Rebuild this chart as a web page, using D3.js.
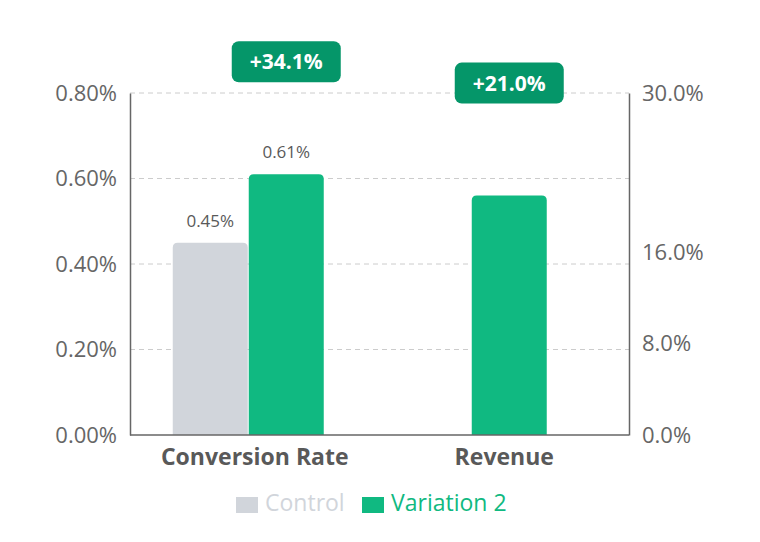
<!DOCTYPE html>
<html>
<head>
<meta charset="utf-8">
<script src="https://cdn.jsdelivr.net/npm/d3@7"></script>
<style>
  body { margin: 0; background: #fff; }
  text { font-family: "Open Sans", "Noto Sans", sans-serif; }
</style>
</head>
<body>
<div id="graphic"></div>
<script>
// data
var categories = ["Conversion Rate", "Revenue"];
var seriesNames = ["Control", "Variation 2"];
var seriesColors = ["#d1d5db", "#10b981"];
var controlValues = [0.45, null];      // left axis (%)
var variationValues = [0.61, 21.0];    // CR on left axis, Revenue on right axis
var liftLabels = ["+34.1%", "+21.0%"];
var leftTicks = [0, 0.2, 0.4, 0.6, 0.8];
var rightTicks = [0, 8, 16, 30];

var width = 760, height = 542;
var x0 = 130, x1 = 629, yTop = 93, yBottom = 435;
var barW = 75;

var svg = d3.select("#graphic").append("svg")
        .attr("width", width)
        .attr("height", height);

var x = d3.scaleBand().domain(categories).range([x0, x1]);
var yLeft = d3.scaleLinear().domain([0, 0.8]).range([yBottom, yTop]);
var yRight = d3.scaleLinear().domain([0, 30]).range([yBottom, yTop]);

// gridlines
svg.append("g").selectAll("line")
        .data(leftTicks.slice(1))
        .join("line")
        .attr("x1", x0).attr("x2", x1)
        .attr("y1", d => yLeft(d)).attr("y2", d => yLeft(d))
        .style("stroke", "#cccccc")
        .style("stroke-width", 1)
        .style("stroke-dasharray", "5,4");

// left axis
var leftAxis = svg.append("g")
        .attr("transform", "translate(" + x0 + ",0)")
        .call(d3.axisLeft(yLeft).tickValues(leftTicks).tickSize(0).tickPadding(13)
            .tickFormat(d => d3.format(".2f")(d) + "%"));
leftAxis.select(".domain").style("stroke", "#666").style("stroke-width", 1.5);
leftAxis.selectAll("text").style("font-size", "22px").style("fill", "#666")
        .style("font-family", "'Open Sans', sans-serif");

// right axis
var rightAxis = svg.append("g")
        .attr("transform", "translate(" + x1 + ",0)")
        .call(d3.axisRight(yRight).tickValues(rightTicks).tickSize(0).tickPadding(13)
            .tickFormat(d => d3.format(".1f")(d) + "%"));
rightAxis.select(".domain").style("stroke", "#666").style("stroke-width", 1.5);
rightAxis.selectAll("text").style("font-size", "22px").style("fill", "#666")
        .style("font-family", "'Open Sans', sans-serif");

// bars
function topRounded(x, y, w, h, r) {
  return "M" + x + "," + (y + h) +
         "V" + (y + r) +
         "Q" + x + "," + y + " " + (x + r) + "," + y +
         "H" + (x + w - r) +
         "Q" + (x + w) + "," + y + " " + (x + w) + "," + (y + r) +
         "V" + (y + h) + "Z";
}

var bars = [];
categories.forEach(function(c, i) {
  var cx = x(c) + x.bandwidth() / 2;
  var scale = i === 0 ? yLeft : yRight;
  if (controlValues[i] != null) {
    bars.push({cat: c, s: 0, v: controlValues[i], xs: cx - 7 - barW, y: scale(controlValues[i]), label: true});
    bars.push({cat: c, s: 1, v: variationValues[i], xs: cx - 6, y: scale(variationValues[i]), label: true, lift: liftLabels[i]});
  } else {
    bars.push({cat: c, s: 1, v: variationValues[i], xs: cx + 5 - barW / 2, y: scale(variationValues[i]), label: false, lift: liftLabels[i]});
  }
});

svg.append("g").selectAll("path")
        .data(bars)
        .join("path")
        .attr("d", d => topRounded(d.xs, d.y, barW, yBottom - d.y, 5))
        .style("fill", d => seriesColors[d.s]);

// value labels
svg.append("g").selectAll("text")
        .data(bars.filter(d => d.label))
        .join("text")
        .attr("x", d => d.xs + barW / 2)
        .attr("y", d => d.y - 16)
        .attr("text-anchor", "middle")
        .style("font-size", "17px")
        .style("fill", "#595959")
        .text(d => d3.format(".2f")(d.v) + "%");

// lift badges
var badges = svg.append("g").selectAll("g")
        .data(bars.filter(d => d.lift))
        .join("g")
        .attr("transform", d => "translate(" + (d.xs + barW / 2) + "," + (d.y - 133) + ")");
badges.append("rect")
        .attr("x", -54.5).attr("y", 0)
        .attr("width", 109).attr("height", 41)
        .attr("rx", 7)
        .style("fill", "#059669");
badges.append("text")
        .attr("x", 0).attr("y", 28)
        .attr("text-anchor", "middle")
        .style("font-size", "21px")
        .style("font-weight", "bold")
        .style("fill", "#ffffff")
        .text(d => d.lift);

// bottom axis line
svg.append("line")
        .attr("x1", x0).attr("x2", x1)
        .attr("y1", yBottom).attr("y2", yBottom)
        .style("stroke", "#666").style("stroke-width", 1.5);

// category labels
svg.append("g").selectAll("text")
        .data(categories)
        .join("text")
        .attr("x", d => x(d) + x.bandwidth() / 2)
        .attr("y", 465)
        .attr("text-anchor", "middle")
        .style("font-size", "23px")
        .style("font-weight", "bold")
        .style("fill", "#595959")
        .text(d => d);

// legend
var legend = svg.append("g");
var legendX = [236, 362];
seriesNames.forEach(function(name, i) {
  legend.append("rect")
        .attr("x", legendX[i]).attr("y", 497)
        .attr("width", 22).attr("height", 16)
        .style("fill", seriesColors[i]);
  legend.append("text")
        .attr("x", legendX[i] + 29).attr("y", 511)
        .style("font-size", "23px")
        .style("fill", seriesColors[i])
        .text(name);
});
</script>
</body>
</html>
